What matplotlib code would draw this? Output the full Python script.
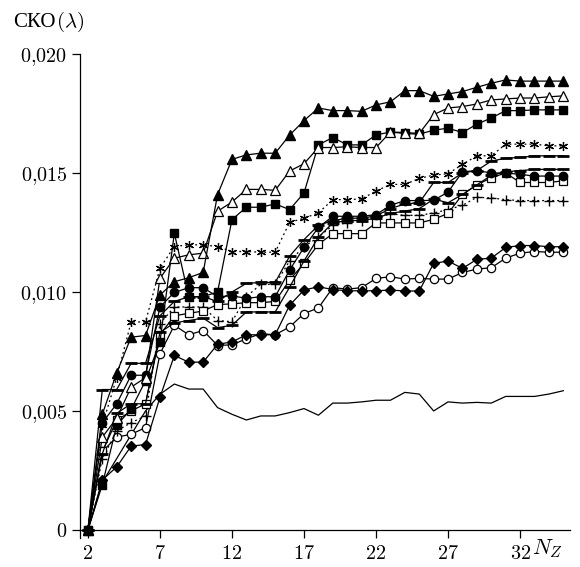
import numpy as np
import matplotlib
matplotlib.use("Agg")
import matplotlib.pyplot as plt

plt.rcParams['mathtext.fontset'] = 'cm'

# N_Z values
n_z = list(range(2, 36))

# series values in units of 1e-3
tri_filled = [0, 4.86, 6.6, 8.1, 8.17, 9.87, 10.43, 10.6, 10.82, 14.09,
              15.57, 15.76, 15.83, 15.83, 16.59, 17.2, 17.73, 17.62, 17.62, 17.59,
              17.86, 17.99, 18.46, 18.46, 18.22, 18.32, 18.42, 18.6, 18.77, 18.91,
              18.86, 18.86, 18.86, 18.86]
tri_open = [0, 3.9, 4.7, 6.0, 6.4, 10.57, 11.42, 11.56, 11.63, 13.39,
            13.78, 14.31, 14.31, 14.27, 15.08, 15.39, 16.07, 16.07, 16.1, 16.07,
            16.07, 16.72, 16.7, 16.66, 17.45, 17.73, 17.79, 17.9, 18.07, 18.11,
            18.15, 18.15, 18.2, 18.24]
sq_filled = [0, 1.9, 4.4, 5.07, 6.27, 7.9, 12.47, 9.8, 9.8, 10.0,
             13.04, 13.56, 13.56, 13.7, 13.46, 14.16, 16.18, 16.49, 16.18, 16.18,
             16.6, 16.72, 16.66, 16.63, 16.8, 16.88, 16.7, 17.05, 17.31, 17.62,
             17.62, 17.65, 17.65, 17.65]
asterisk = [0, 4.4, 6.4, 8.74, 8.74, 11.0, 11.91, 11.98, 11.98, 11.91,
            11.7, 11.7, 11.67, 11.67, 12.92, 13.1, 13.32, 13.88, 13.88, 13.91,
            14.24, 14.52, 14.52, 14.77, 14.91, 14.97, 15.36, 15.72, 15.72, 16.21,
            16.21, 16.21, 16.14, 16.14]
dash_upper = [0, 5.9, 5.9, 7.0, 7.0, 9.0, 9.6, 9.8, 9.8, 9.6,
              10.0, 10.36, 10.4, 10.4, 11.5, 12.2, 12.8, 13.0, 13.1, 13.1,
              13.2, 13.5, 13.7, 13.75, 14.6, 14.6, 15.0, 15.1, 15.5, 15.62,
              15.65, 15.72, 15.72, 15.72]
dash_lower = [0, 3.2, 4.9, 5.3, 5.3, 8.3, 8.7, 8.8, 8.9, 8.5,
              8.6, 9.16, 9.16, 9.16, 10.2, 11.3, 12.3, 12.9, 13.0, 13.0,
              13.1, 13.3, 13.4, 13.5, 13.9, 13.75, 14.1, 14.5, 14.9, 15.05,
              15.1, 15.15, 15.15, 15.15]
circ_filled = [0, 4.5, 5.3, 6.5, 6.5, 9.37, 9.98, 10.18, 10.18, 9.8,
               9.84, 9.73, 9.8, 9.8, 10.92, 11.87, 12.71, 13.18, 13.18, 13.18,
               13.25, 13.64, 13.84, 13.84, 13.85, 14.2, 15.05, 15.1, 15.0, 15.0,
               14.94, 14.87, 14.87, 14.87]
sq_open = [0, 3.3, 4.6, 5.0, 5.3, 8.2, 9.0, 9.1, 9.2, 9.47,
           9.5, 9.55, 9.55, 9.6, 10.5, 11.2, 12.0, 12.45, 12.45, 12.45,
           12.9, 12.9, 12.9, 12.9, 13.05, 13.3, 14.1, 14.5, 14.8, 15.0,
           14.6, 14.6, 14.6, 14.67]
plus = [0, 3.0, 4.16, 4.51, 4.79, 8.67, 9.37, 9.37, 9.37, 8.8,
        8.75, 9.8, 10.32, 10.32, 11.3, 11.9, 12.3, 12.8, 12.9, 13.0,
        13.1, 13.28, 13.22, 13.22, 13.32, 13.46, 13.64, 13.98, 13.95, 13.88,
        13.84, 13.84, 13.84, 13.84]
dia_filled = [0, 2.1, 2.65, 3.52, 3.59, 5.57, 7.33, 7.05, 7.05, 7.8,
              7.9, 8.2, 8.2, 8.2, 9.44, 10.08, 10.22, 10.1, 10.05, 10.05,
              10.05, 10.08, 10.04, 10.04, 11.2, 11.3, 10.99, 11.37, 11.42, 11.87,
              11.95, 11.95, 11.9, 11.9]
circ_open = [0, 3.3, 3.9, 4.02, 4.3, 7.4, 8.6, 8.2, 8.38, 7.75,
             7.78, 8.03, 8.25, 8.2, 8.53, 9.09, 9.33, 10.18, 10.12, 10.18,
             10.57, 10.64, 10.54, 10.57, 10.54, 10.54, 10.82, 10.96, 11.02, 11.42,
             11.63, 11.7, 11.67, 11.67]
plain = [0, 2.0, 3.0, 4.0, 5.0, 5.7, 6.13, 5.92, 5.92, 5.14,
         4.86, 4.62, 4.79, 4.79, 4.93, 5.1, 4.82, 5.33, 5.33, 5.38,
         5.45, 5.45, 5.78, 5.71, 5.0, 5.38, 5.33, 5.36, 5.33, 5.61,
         5.61, 5.61, 5.71, 5.85]

x_ticks = [2, 7, 12, 17, 22, 27, 32]
y_ticks = [0, 0.005, 0.010, 0.015, 0.020]
y_tick_labels = ['0', '0,005', '0,010', '0,015', '0,020']

fig = plt.figure(figsize=(5.8, 5.67), dpi=100)
ax = fig.add_axes([0.1379, 0.0511, 0.845, 0.8537])

lw = 0.9
ms = 6
x = np.array(n_z)

def s(v):
    return np.array(v) * 1e-3

ax.plot(x, s(plain), color='black', lw=lw, zorder=2)
ax.plot(x, s(circ_open), color='black', lw=lw, marker='o', mfc='white', mec='black', ms=ms, mew=0.9, zorder=3)
ax.plot(x, s(dia_filled), color='black', lw=lw, marker='D', mfc='black', mec='black', ms=5, zorder=3)
ax.plot(x, s(plus), color='black', lw=lw, ls=(0, (1.5, 2.5)), marker='+', ms=7, mew=1.0, zorder=3)
ax.plot(x, s(sq_open), color='black', lw=lw, marker='s', mfc='white', mec='black', ms=ms, mew=0.9, zorder=3)
ax.plot(x, s(circ_filled), color='black', lw=lw, marker='o', mfc='black', mec='black', ms=ms, zorder=3)
ax.plot(x, s(dash_lower), color='black', lw=lw, marker='_', ms=9, mew=2.0, zorder=3)
ax.plot(x, s(dash_upper), color='black', lw=lw, marker='_', ms=9, mew=2.0, zorder=3)
ax.plot(x, s(asterisk), color='black', lw=lw, ls=(0, (1.5, 2.5)), marker=(6, 2, 0), ms=6.5, mew=0.9, zorder=3)
ax.plot(x, s(sq_filled), color='black', lw=lw, marker='s', mfc='black', mec='black', ms=ms, zorder=3)
ax.plot(x, s(tri_open), color='black', lw=lw, marker='^', mfc='white', mec='black', ms=6.5, mew=0.9, zorder=3)
ax.plot(x, s(tri_filled), color='black', lw=lw, marker='^', mfc='black', mec='black', ms=6.5, zorder=3)

ax.set_xlim(1.45, 35.47)
ax.set_ylim(-0.00034, 0.020)

for sp in ['top', 'right']:
    ax.spines[sp].set_visible(False)
ax.spines['bottom'].set_position(('data', 0))
ax.spines['left'].set_linewidth(0.9)
ax.spines['bottom'].set_linewidth(0.9)

ax.set_xticks(x_ticks)
ax.set_xticklabels([f'${t}$' for t in x_ticks], fontsize=14.5)
ax.set_yticks(y_ticks)
ax.set_yticklabels(['$' + l.replace(',', '{,}') + '$' for l in y_tick_labels], fontsize=14.5)
ax.tick_params(axis='both', direction='out', length=6, width=0.9, pad=3)
ax.tick_params(axis='x', pad=4)

fig.text(0.022, 0.962, 'СКО', fontsize=15, family=['cmr10', 'Liberation Serif'], va='center', ha='left')
fig.text(0.096, 0.962, r'$(\lambda)$', fontsize=15, va='center', ha='left')
fig.text(0.918, 0.032, r'$N_Z$', fontsize=16, va='center', ha='left')

fig.savefig('out.png', dpi=100)
